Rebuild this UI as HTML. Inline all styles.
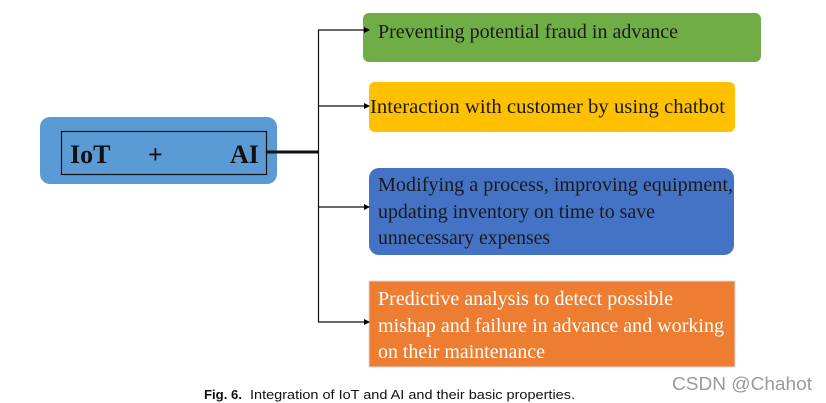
<!DOCTYPE html>
<html><head><style>
html,body{margin:0;padding:0;background:#fff;width:826px;height:403px;overflow:hidden}
svg{display:block}
</style></head><body>
<svg width="826" height="403" viewBox="0 0 826 403" xmlns="http://www.w3.org/2000/svg">
<defs><marker id="a" markerWidth="6" markerHeight="6" refX="5" refY="3" orient="auto" markerUnits="userSpaceOnUse"><path d="M0,0 L6,3 L0,6 z" fill="#000"/></marker></defs>
<rect x="40" y="117" width="237" height="67" rx="10" fill="#5b9bd5"/>
<rect x="61.5" y="131.5" width="205" height="43" fill="none" stroke="#111" stroke-width="1.2"/>
<g font-family="Liberation Serif, serif" font-weight="bold" font-size="26" fill="#111">
<text x="70" y="163">IoT</text><text x="148" y="163">+</text><text x="230" y="163">AI</text></g>
<rect x="363" y="13" width="398" height="49" rx="6" fill="#70ad47"/>
<rect x="369" y="82" width="366" height="50" rx="6" fill="#ffc000"/>
<rect x="369" y="168" width="365" height="87" rx="10" fill="#4472c4"/>
<rect x="369" y="281" width="366" height="86" fill="#ed7d31" stroke="#d9d9d9" stroke-width="1"/>
<line x1="267" y1="152" x2="318" y2="152" stroke="#111" stroke-width="3"/>
<line x1="318.5" y1="30" x2="318.5" y2="322" stroke="#111" stroke-width="1.2"/>
<g stroke="#111" stroke-width="1.2" marker-end="url(#a)">
<line x1="318" y1="30" x2="369" y2="30"/><line x1="318" y1="106" x2="369" y2="106"/>
<line x1="318" y1="207" x2="369" y2="207"/><line x1="318" y1="322" x2="369" y2="322"/></g>
<g font-family="Liberation Serif, serif" font-size="20" fill="#1a1a1a">
<text x="378" y="38" textLength="300" lengthAdjust="spacingAndGlyphs">Preventing potential fraud in advance</text>
<text x="370" y="113" textLength="355" lengthAdjust="spacingAndGlyphs">Interaction with customer by using chatbot</text>
<text x="378" y="191" textLength="355" lengthAdjust="spacingAndGlyphs">Modifying a process, improving equipment,</text>
<text x="378" y="218" textLength="277" lengthAdjust="spacingAndGlyphs">updating inventory on time to save</text>
<text x="378" y="244" textLength="172" lengthAdjust="spacingAndGlyphs">unnecessary expenses</text>
</g>
<g font-family="Liberation Serif, serif" font-size="20" fill="#fff">
<text x="378" y="305" textLength="295" lengthAdjust="spacingAndGlyphs">Predictive analysis to detect possible</text>
<text x="378" y="332" textLength="346" lengthAdjust="spacingAndGlyphs">mishap and failure in advance and working</text>
<text x="378" y="358" textLength="167" lengthAdjust="spacingAndGlyphs">on their maintenance</text>
</g>
<text x="204" y="399" font-family="Liberation Sans, sans-serif" font-size="13" fill="#111" textLength="38" lengthAdjust="spacingAndGlyphs" font-weight="bold">Fig. 6.</text>
<text x="250" y="399" font-family="Liberation Sans, sans-serif" font-size="13" fill="#111" textLength="325" lengthAdjust="spacingAndGlyphs">Integration of IoT and AI and their basic properties.</text>
<text x="672" y="390" font-family="Liberation Sans, sans-serif" font-size="18" fill="#9a9a9a" textLength="140" lengthAdjust="spacingAndGlyphs">CSDN @Chahot</text>
</svg>
</body></html>
